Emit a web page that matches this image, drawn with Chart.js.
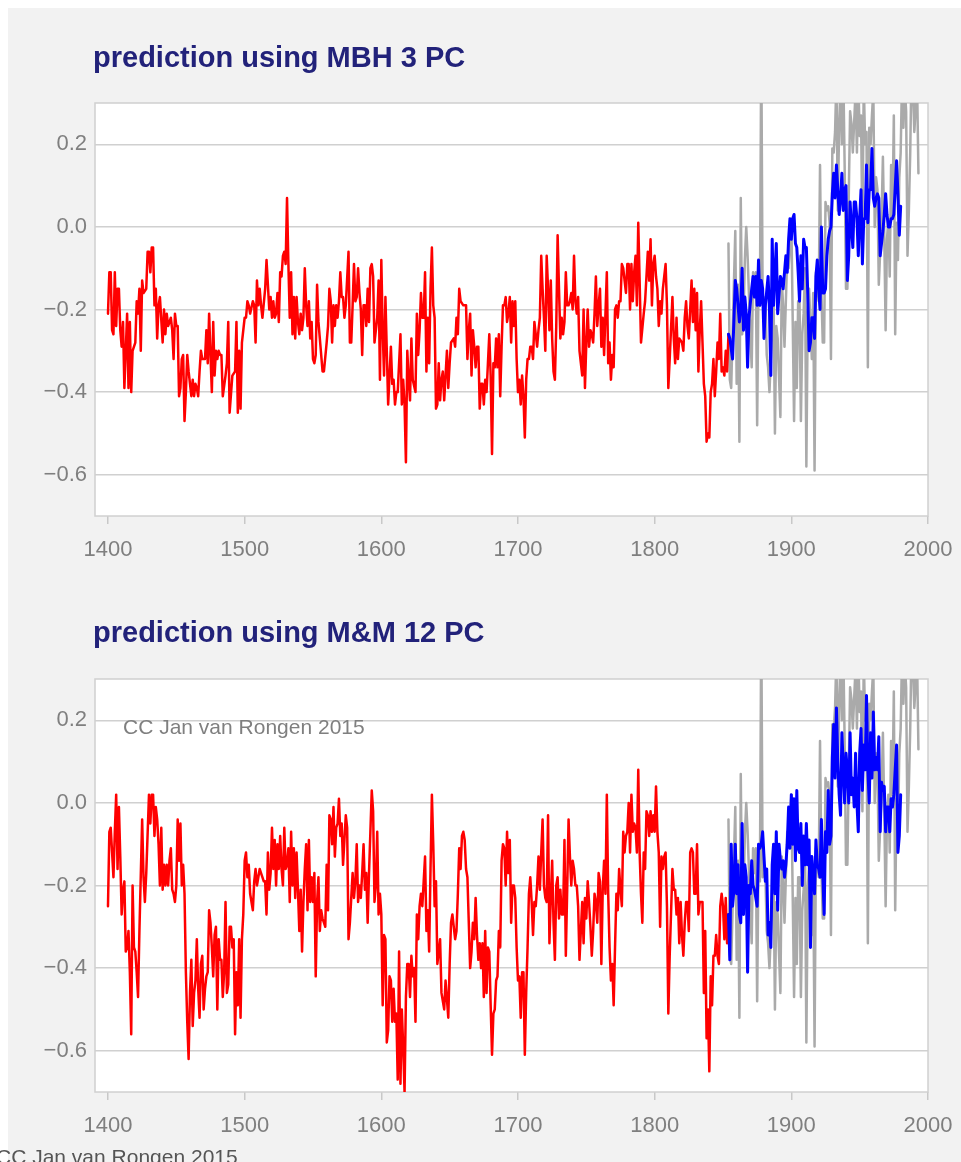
<!DOCTYPE html>
<html><head><meta charset="utf-8">
<script src="https://cdn.jsdelivr.net/npm/chart.js@4/dist/chart.umd.min.js"></script>
<style>
html,body{margin:0;padding:0;background:#fff;width:961px;height:1162px;overflow:hidden;font-family:"Liberation Sans",Arial,sans-serif;}
#panel{position:absolute;left:8px;top:8px;width:953px;height:1154px;background:#f2f2f2;}
.box{position:absolute;left:0;width:961px;height:580px;}
.title{position:absolute;left:93px;font-weight:bold;font-size:29px;line-height:29px;color:#22227a;white-space:nowrap;}
.note{position:absolute;font-size:21px;line-height:21px;color:#7f7f7f;white-space:nowrap;}
</style></head>
<body>
<div id="panel"></div>
<div class="box" style="top:0"><canvas id="c1" width="961" height="580"></canvas></div>
<div class="box" style="top:576px"><canvas id="c2" width="961" height="580"></canvas></div>
<div class="title" style="top:43px">prediction using MBH 3 PC</div>
<div class="title" style="top:618px">prediction using M&amp;M 12 PC</div>
<div class="note" style="left:123px;top:716px">CC Jan van Rongen 2015</div>
<div class="note" style="left:-4px;top:1146px;color:#555">CC Jan van Rongen 2015</div>
<script>
// ---------- data ----------
const xTicks = [1400, 1500, 1600, 1700, 1800, 1900, 2000];
const yTicks = [-0.6, -0.4, -0.2, 0.0, 0.2];

// MBH 3 PC reconstruction (red)
const mbhRedYears = [
1400,1401,1402,1403,1404,1405,1406,1407,1408,1409,
1410,1411,1412,1414,1415,1416,1417,1418,1420,1421,
1422,1423,1424,1425,1426,1428,1429,1430,1431,1432,
1433,1434,1435,1436,1437,1438,1440,1441,1442,1443,
1444,1446,1447,1448,1449,1450,1451,1452,1453,1454,
1455,1456,1457,1458,1459,1461,1462,1463,1464,1465,
1466,1467,1468,1469,1471,1472,1473,1474,1475,1476,
1477,1478,1479,1480,1481,1482,1483,1484,1486,1487,
1488,1489,1491,1493,1494,1495,1496,1497,1498,1500,
1501,1502,1503,1504,1506,1507,1508,1509,1510,1511,
1512,1513,1515,1516,1518,1519,1520,1521,1522,1523,
1524,1525,1526,1527,1528,1529,1530,1531,1532,1533,
1534,1535,1536,1537,1538,1539,1540,1541,1542,1543,
1544,1545,1546,1547,1548,1549,1550,1551,1552,1553,
1554,1555,1557,1558,1560,1561,1562,1563,1564,1565,
1566,1567,1568,1569,1570,1571,1572,1573,1574,1576,
1577,1578,1579,1580,1581,1582,1583,1584,1585,1586,
1587,1588,1589,1590,1591,1592,1593,1594,1595,1597,
1598,1599,1600,1601,1602,1603,1604,1605,1607,1608,
1609,1610,1611,1612,1614,1615,1616,1617,1618,1619,
1620,1621,1622,1623,1625,1626,1627,1628,1629,1630,
1631,1632,1633,1634,1635,1636,1637,1638,1639,1640,
1641,1642,1643,1644,1645,1646,1648,1649,1650,1651,
1653,1654,1655,1656,1657,1658,1660,1662,1663,1664,
1665,1666,1667,1668,1669,1670,1671,1672,1673,1674,
1675,1676,1677,1678,1679,1680,1681,1682,1683,1684,
1685,1686,1687,1688,1689,1690,1691,1692,1693,1694,
1695,1696,1697,1698,1699,1700,1701,1702,1703,1704,
1705,1706,1707,1708,1709,1710,1711,1712,1713,1714,
1715,1716,1717,1718,1719,1720,1721,1722,1723,1724,
1725,1726,1727,1728,1729,1730,1731,1732,1733,1734,
1735,1736,1737,1738,1739,1740,1741,1742,1743,1744,
1745,1746,1747,1748,1749,1750,1751,1752,1753,1754,
1755,1756,1757,1758,1759,1760,1761,1762,1763,1764,
1765,1766,1767,1768,1769,1770,1771,1772,1773,1774,
1775,1776,1777,1779,1780,1781,1782,1783,1784,1785,
1786,1787,1788,1789,1790,1792,1793,1795,1796,1797,
1798,1799,1800,1801,1802,1803,1804,1805,1806,1807,
1808,1809,1810,1811,1813,1814,1815,1816,1817,1818,
1820,1821,1822,1823,1824,1825,1826,1827,1828,1829,
1830,1831,1832,1833,1834,1835,1836,1837,1838,1839,
1840,1841,1842,1843,1844,1845,1846,1847,1848,1849,
1850,1851,1852,1853,1854];
const mbhRedValues = [
-0.21,-0.11,-0.11,-0.25,-0.26,-0.11,-0.24,-0.15,-0.15,-0.25,
-0.29,-0.23,-0.39,-0.21,-0.39,-0.23,-0.40,-0.30,-0.28,-0.18,
-0.21,-0.15,-0.30,-0.13,-0.16,-0.15,-0.06,-0.06,-0.11,-0.05,
-0.05,-0.19,-0.15,-0.27,-0.19,-0.17,-0.28,-0.20,-0.26,-0.21,
-0.24,-0.22,-0.25,-0.32,-0.21,-0.24,-0.24,-0.41,-0.39,-0.32,
-0.31,-0.47,-0.40,-0.31,-0.35,-0.41,-0.37,-0.41,-0.38,-0.39,
-0.41,-0.35,-0.30,-0.32,-0.32,-0.25,-0.33,-0.21,-0.31,-0.40,
-0.23,-0.36,-0.30,-0.32,-0.30,-0.31,-0.31,-0.41,-0.36,-0.33,
-0.23,-0.45,-0.36,-0.35,-0.23,-0.45,-0.30,-0.44,-0.28,-0.22,
-0.22,-0.18,-0.19,-0.21,-0.18,-0.19,-0.28,-0.13,-0.19,-0.15,
-0.19,-0.22,-0.15,-0.08,-0.20,-0.17,-0.22,-0.18,-0.22,-0.21,
-0.16,-0.23,-0.11,-0.12,-0.07,-0.06,-0.09,0.07,-0.09,-0.22,
-0.11,-0.26,-0.17,-0.27,-0.17,-0.23,-0.26,-0.21,-0.25,-0.22,
-0.10,-0.19,-0.24,-0.18,-0.27,-0.23,-0.32,-0.33,-0.31,-0.14,
-0.23,-0.27,-0.35,-0.35,-0.28,-0.24,-0.15,-0.18,-0.28,-0.19,
-0.24,-0.19,-0.22,-0.18,-0.11,-0.17,-0.17,-0.22,-0.19,-0.06,
-0.28,-0.28,-0.19,-0.09,-0.18,-0.17,-0.10,-0.16,-0.20,-0.31,
-0.19,-0.19,-0.24,-0.15,-0.23,-0.10,-0.09,-0.12,-0.28,-0.22,
-0.13,-0.37,-0.08,-0.25,-0.36,-0.17,-0.30,-0.43,-0.29,-0.38,
-0.37,-0.43,-0.40,-0.40,-0.26,-0.43,-0.37,-0.43,-0.57,-0.30,
-0.37,-0.42,-0.27,-0.37,-0.40,-0.21,-0.31,-0.25,-0.16,-0.22,
-0.22,-0.11,-0.35,-0.22,-0.33,-0.15,-0.05,-0.19,-0.22,-0.44,
-0.43,-0.33,-0.42,-0.37,-0.35,-0.42,-0.30,-0.39,-0.33,-0.28,
-0.27,-0.29,-0.22,-0.26,-0.15,-0.18,-0.19,-0.19,-0.32,-0.25,
-0.21,-0.36,-0.25,-0.29,-0.34,-0.29,-0.29,-0.44,-0.38,-0.38,
-0.43,-0.37,-0.40,-0.33,-0.26,-0.36,-0.55,-0.33,-0.34,-0.27,
-0.34,-0.26,-0.41,-0.29,-0.19,-0.19,-0.17,-0.23,-0.21,-0.17,
-0.28,-0.18,-0.24,-0.18,-0.32,-0.40,-0.37,-0.43,-0.36,-0.41,
-0.51,-0.37,-0.32,-0.32,-0.29,-0.29,-0.32,-0.23,-0.26,-0.29,
-0.25,-0.22,-0.07,-0.15,-0.22,-0.30,-0.07,-0.15,-0.25,-0.13,
-0.27,-0.35,-0.37,-0.24,-0.02,-0.15,-0.27,-0.22,-0.26,-0.23,
-0.11,-0.19,-0.19,-0.18,-0.16,-0.20,-0.07,-0.18,-0.21,-0.17,
-0.30,-0.33,-0.36,-0.20,-0.39,-0.28,-0.20,-0.29,-0.25,-0.26,
-0.28,-0.21,-0.12,-0.24,-0.19,-0.15,-0.29,-0.22,-0.31,-0.21,
-0.11,-0.33,-0.28,-0.37,-0.31,-0.34,-0.20,-0.19,-0.22,-0.18,
-0.18,-0.09,-0.10,-0.16,-0.09,-0.09,-0.20,-0.09,-0.18,-0.11,
-0.07,-0.19,0.01,-0.13,-0.28,-0.21,-0.18,-0.06,-0.13,-0.03,
-0.19,-0.09,-0.07,-0.12,-0.15,-0.24,-0.18,-0.21,-0.15,-0.12,
-0.09,-0.19,-0.39,-0.32,-0.17,-0.27,-0.33,-0.22,-0.32,-0.27,
-0.28,-0.30,-0.22,-0.18,-0.24,-0.27,-0.20,-0.13,-0.23,-0.15,
-0.25,-0.16,-0.35,-0.25,-0.18,-0.28,-0.38,-0.41,-0.52,-0.50,
-0.51,-0.40,-0.38,-0.32,-0.41,-0.35,-0.28,-0.32,-0.21,-0.35,
-0.34,-0.36,-0.30,-0.35,-0.26];

// MBH 3 PC calibration fit (blue)
const mbhBlueYears = [
1854,1855,1857,1859,1860,1862,1863,1864,1865,1866,
1867,1868,1869,1871,1872,1873,1874,1875,1876,1877,
1878,1879,1880,1881,1883,1884,1885,1886,1887,1889,
1890,1892,1893,1894,1896,1897,1898,1899,1900,1901,
1902,1903,1904,1905,1906,1907,1908,1909,1910,1911,
1912,1913,1914,1915,1916,1917,1918,1919,1920,1921,
1922,1923,1924,1925,1926,1927,1928,1929,1930,1931,
1932,1933,1934,1935,1936,1937,1938,1939,1940,1941,
1942,1943,1944,1945,1946,1947,1948,1949,1950,1951,
1952,1953,1954,1955,1956,1957,1958,1959,1960,1961,
1962,1963,1964,1965,1966,1967,1968,1969,1970,1971,
1972,1973,1974,1975,1977,1978,1979,1980];
const mbhBlueValues = [
-0.26,-0.27,-0.32,-0.13,-0.15,-0.23,-0.20,-0.10,-0.25,-0.17,
-0.21,-0.34,-0.22,-0.15,-0.12,-0.17,-0.12,-0.19,-0.08,-0.19,
-0.13,-0.15,-0.27,-0.19,-0.12,-0.20,-0.36,-0.03,-0.19,-0.04,
-0.21,-0.12,-0.13,-0.15,-0.07,-0.11,-0.03,0.02,-0.03,0.02,
0.03,-0.04,-0.05,-0.11,-0.18,-0.07,-0.15,-0.03,-0.05,-0.05,
-0.16,-0.30,-0.28,-0.22,-0.22,-0.27,-0.12,-0.08,-0.15,-0.20,
0.00,-0.16,-0.16,-0.15,-0.07,-0.03,-0.01,0.00,0.08,0.13,
0.07,0.15,0.09,0.03,0.07,0.13,0.04,0.09,0.10,-0.13,
-0.07,0.06,0.00,-0.05,0.06,0.06,0.02,-0.07,0.02,0.09,
-0.09,0.02,0.02,0.15,0.01,0.09,0.09,0.19,0.07,0.05,
0.07,0.08,0.07,-0.07,-0.04,-0.01,0.03,0.08,0.03,0.00,
0.00,0.02,0.02,0.03,0.16,0.08,-0.02,0.05];

// M&M 12 PC reconstruction (red)
const mmRedYears = [
1400,1401,1402,1403,1404,1405,1406,1407,1408,1409,
1410,1411,1412,1413,1414,1415,1416,1417,1418,1419,
1420,1421,1422,1423,1425,1426,1427,1428,1430,1431,
1432,1433,1434,1435,1436,1437,1438,1439,1440,1441,
1442,1443,1444,1445,1446,1447,1448,1449,1450,1451,
1452,1453,1454,1455,1456,1457,1458,1459,1460,1461,
1462,1463,1464,1465,1466,1467,1468,1469,1470,1471,
1472,1473,1474,1475,1476,1477,1478,1479,1480,1481,
1482,1483,1484,1485,1486,1487,1488,1489,1490,1491,
1492,1493,1494,1495,1496,1497,1498,1499,1500,1501,
1502,1503,1504,1506,1507,1508,1509,1510,1511,1512,
1514,1515,1516,1517,1518,1519,1520,1521,1522,1523,
1524,1525,1526,1527,1528,1529,1530,1531,1532,1533,
1534,1535,1536,1537,1538,1539,1540,1541,1542,1543,
1544,1545,1546,1547,1548,1549,1550,1551,1552,1553,
1554,1555,1556,1557,1558,1559,1560,1561,1562,1563,
1564,1565,1566,1567,1568,1569,1570,1571,1572,1573,
1574,1575,1576,1577,1578,1579,1580,1581,1582,1583,
1584,1585,1586,1587,1588,1589,1590,1591,1592,1593,
1594,1595,1596,1597,1598,1599,1600,1601,1602,1603,
1604,1605,1606,1607,1608,1609,1610,1611,1612,1613,
1614,1615,1616,1617,1618,1619,1620,1621,1622,1623,
1624,1625,1626,1627,1628,1629,1630,1631,1632,1633,
1634,1635,1636,1637,1638,1639,1640,1641,1642,1643,
1644,1646,1647,1649,1650,1651,1652,1654,1655,1656,
1657,1658,1659,1660,1661,1662,1663,1664,1665,1666,
1667,1668,1669,1670,1671,1672,1673,1674,1675,1676,
1677,1678,1679,1680,1681,1682,1683,1684,1685,1686,
1687,1688,1689,1690,1691,1692,1693,1694,1695,1696,
1697,1698,1699,1700,1701,1702,1703,1704,1705,1706,
1707,1708,1709,1710,1711,1712,1713,1714,1715,1716,
1717,1718,1719,1720,1721,1722,1723,1724,1725,1726,
1727,1728,1729,1730,1731,1732,1733,1734,1735,1736,
1737,1738,1739,1740,1741,1742,1743,1744,1745,1746,
1747,1748,1749,1750,1751,1752,1753,1754,1755,1756,
1757,1758,1759,1760,1761,1762,1763,1764,1765,1766,
1767,1768,1769,1770,1771,1772,1773,1774,1775,1776,
1777,1778,1779,1780,1781,1782,1783,1784,1785,1786,
1787,1788,1789,1790,1791,1792,1793,1794,1795,1796,
1797,1798,1799,1800,1801,1802,1803,1804,1805,1806,
1807,1808,1809,1810,1811,1813,1814,1815,1816,1817,
1818,1819,1820,1821,1822,1823,1824,1825,1826,1827,
1828,1829,1830,1831,1832,1833,1834,1835,1836,1837,
1838,1839,1840,1841,1842,1843,1844,1845,1846,1847,
1848,1849,1850,1851,1852,1853,1854];
const mmRedValues = [
-0.25,-0.07,-0.06,-0.12,-0.18,-0.07,0.02,-0.16,-0.01,-0.13,
-0.27,-0.21,-0.19,-0.36,-0.35,-0.31,-0.41,-0.56,-0.20,-0.35,
-0.36,-0.41,-0.47,-0.31,-0.04,-0.18,-0.24,-0.17,0.02,-0.05,
0.02,0.02,-0.08,-0.01,-0.04,-0.10,-0.20,-0.06,-0.21,-0.15,
-0.20,-0.15,-0.20,-0.14,-0.11,-0.21,-0.22,-0.24,-0.20,-0.04,
-0.14,-0.05,-0.20,-0.15,-0.22,-0.41,-0.53,-0.62,-0.46,-0.38,
-0.54,-0.46,-0.43,-0.33,-0.45,-0.52,-0.39,-0.37,-0.50,-0.45,
-0.42,-0.41,-0.26,-0.29,-0.35,-0.42,-0.32,-0.30,-0.50,-0.33,
-0.38,-0.38,-0.47,-0.41,-0.24,-0.46,-0.44,-0.30,-0.30,-0.35,
-0.33,-0.56,-0.41,-0.49,-0.33,-0.52,-0.33,-0.27,-0.14,-0.12,
-0.18,-0.15,-0.22,-0.26,-0.19,-0.16,-0.20,-0.18,-0.16,-0.17,
-0.19,-0.19,-0.27,-0.12,-0.21,-0.17,-0.06,-0.16,-0.09,-0.20,
-0.10,-0.16,-0.08,-0.16,-0.20,-0.06,-0.16,-0.15,-0.11,-0.24,
-0.07,-0.20,-0.11,-0.23,-0.12,-0.21,-0.31,-0.21,-0.36,-0.24,
-0.16,-0.10,-0.26,-0.09,-0.24,-0.18,-0.24,-0.17,-0.42,-0.24,
-0.18,-0.31,-0.26,-0.28,-0.29,-0.30,-0.15,-0.26,-0.03,-0.04,
-0.10,-0.01,-0.13,-0.06,-0.05,0.01,-0.08,-0.05,-0.15,-0.09,
-0.03,-0.06,-0.33,-0.29,-0.23,-0.17,-0.23,-0.19,-0.10,-0.24,
-0.20,-0.23,-0.17,-0.10,-0.21,-0.17,-0.29,-0.17,-0.07,0.03,
-0.02,-0.24,-0.20,-0.07,-0.27,-0.22,-0.27,-0.49,-0.32,-0.33,
-0.58,-0.55,-0.42,-0.43,-0.53,-0.45,-0.53,-0.51,-0.67,-0.36,
-0.68,-0.50,-0.59,-0.70,-0.47,-0.39,-0.39,-0.47,-0.37,-0.42,
-0.40,-0.53,-0.27,-0.33,-0.25,-0.22,-0.25,-0.19,-0.13,-0.31,
-0.26,-0.36,-0.16,0.02,-0.10,-0.25,-0.19,-0.39,-0.36,-0.33,
-0.46,-0.50,-0.43,-0.52,-0.39,-0.29,-0.27,-0.33,-0.31,-0.22,
-0.11,-0.16,-0.08,-0.07,-0.09,-0.16,-0.18,-0.29,-0.40,-0.36,
-0.29,-0.33,-0.23,-0.32,-0.38,-0.34,-0.40,-0.34,-0.47,-0.31,
-0.46,-0.35,-0.36,-0.49,-0.61,-0.51,-0.50,-0.43,-0.42,-0.31,
-0.35,-0.14,-0.10,-0.11,-0.20,-0.07,-0.17,-0.09,-0.29,-0.20,
-0.20,-0.23,-0.35,-0.43,-0.42,-0.52,-0.41,-0.41,-0.61,-0.46,
-0.35,-0.22,-0.18,-0.24,-0.32,-0.24,-0.25,-0.20,-0.13,-0.21,
-0.12,-0.04,-0.20,-0.23,-0.24,-0.03,-0.34,-0.23,-0.14,-0.29,
-0.38,-0.20,-0.18,-0.28,-0.21,-0.27,-0.27,-0.09,-0.37,-0.21,
-0.04,-0.13,-0.20,-0.14,-0.16,-0.20,-0.20,-0.25,-0.38,-0.31,
-0.24,-0.34,-0.23,-0.28,-0.19,-0.24,-0.30,-0.37,-0.31,-0.22,
-0.24,-0.29,-0.17,-0.19,-0.39,-0.21,-0.14,-0.22,0.02,-0.22,
-0.35,-0.43,-0.39,-0.49,-0.35,-0.22,-0.26,-0.16,-0.21,-0.25,
-0.07,-0.12,-0.08,-0.07,0.00,-0.12,0.02,-0.07,-0.05,-0.06,
-0.12,0.08,-0.12,-0.22,-0.29,-0.12,-0.16,-0.02,-0.03,-0.08,
-0.02,-0.07,-0.03,-0.07,0.04,-0.07,-0.12,-0.30,-0.13,-0.16,
-0.13,-0.12,-0.25,-0.51,-0.37,-0.16,-0.21,-0.21,-0.27,-0.23,
-0.34,-0.24,-0.32,-0.37,-0.29,-0.24,-0.24,-0.31,-0.12,-0.11,
-0.12,-0.22,-0.22,-0.10,-0.27,-0.24,-0.24,-0.24,-0.46,-0.31,
-0.57,-0.50,-0.65,-0.42,-0.49,-0.37,-0.37,-0.32,-0.37,-0.39,
-0.25,-0.22,-0.25,-0.33,-0.23,-0.34,-0.27];

// M&M 12 PC calibration fit (blue)
const mmBlueYears = [
1854,1855,1856,1857,1858,1859,1860,1861,1862,1863,
1864,1865,1866,1867,1868,1869,1870,1871,1872,1873,
1875,1876,1877,1878,1879,1880,1881,1882,1883,1884,
1885,1886,1887,1888,1889,1890,1891,1892,1893,1894,
1895,1896,1897,1898,1899,1900,1901,1902,1903,1904,
1905,1906,1907,1908,1909,1910,1911,1912,1913,1914,
1915,1916,1917,1918,1919,1920,1921,1922,1923,1924,
1925,1926,1927,1928,1929,1930,1931,1932,1933,1934,
1935,1936,1937,1938,1939,1940,1941,1942,1943,1944,
1945,1946,1947,1948,1949,1950,1951,1952,1953,1954,
1955,1956,1957,1958,1959,1960,1961,1962,1963,1964,
1965,1966,1967,1968,1969,1970,1971,1972,1973,1974,
1975,1976,1977,1978,1979,1980];
const mmBlueValues = [
-0.27,-0.38,-0.10,-0.25,-0.21,-0.10,-0.22,-0.15,-0.27,-0.29,
-0.05,-0.27,-0.15,-0.18,-0.41,-0.20,-0.22,-0.14,-0.20,-0.21,
-0.25,-0.10,-0.11,-0.10,-0.07,-0.13,-0.19,-0.16,-0.32,-0.29,
-0.35,-0.15,-0.10,-0.22,-0.07,-0.26,-0.10,-0.14,-0.16,-0.14,
-0.18,-0.15,-0.10,-0.01,-0.11,0.02,-0.10,0.01,-0.14,0.03,
-0.11,-0.12,-0.05,-0.20,-0.08,-0.15,-0.05,-0.15,-0.09,-0.35,
-0.13,-0.18,-0.22,-0.09,-0.15,-0.16,-0.18,-0.04,-0.17,-0.27,
-0.07,-0.12,0.03,-0.10,-0.08,0.11,0.19,0.06,0.23,0.10,
0.02,-0.03,0.17,0.09,0.00,0.12,0.08,0.00,0.17,0.02,
0.06,-0.01,0.12,0.00,-0.07,0.12,0.18,0.03,0.14,0.08,
0.26,0.08,0.00,0.17,0.06,0.22,0.08,0.11,0.08,0.16,
-0.07,0.05,0.03,0.04,-0.07,-0.01,-0.01,-0.07,0.01,-0.01,
0.02,0.08,0.14,-0.12,-0.08,0.02];

// instrumental record (grey), same in both panels
const instYears = [
1854,1855,1856,1857,1859,1860,1861,1862,1863,1864,
1865,1866,1867,1868,1870,1871,1872,1873,1874,1875,
1876,1877,1878,1879,1881,1882,1883,1884,1886,1887,
1888,1889,1890,1892,1893,1894,1895,1897,1898,1900,
1902,1903,1904,1905,1906,1907,1908,1909,1910,1911,
1912,1913,1915,1916,1917,1918,1920,1921,1922,1923,
1924,1925,1926,1927,1928,1929,1930,1931,1932,1933,
1934,1935,1936,1937,1938,1939,1940,1941,1942,1943,
1944,1945,1947,1948,1949,1950,1951,1952,1953,1954,
1955,1956,1957,1958,1959,1960,1961,1962,1963,1964,
1966,1967,1968,1969,1970,1971,1972,1973,1974,1975,
1976,1977,1978,1979,1980,1981,1982,1983,1984,1985,
1986,1987,1988,1989,1990,1992,1993];
const instValues = [
-0.04,-0.37,-0.39,-0.26,-0.01,-0.38,-0.14,-0.52,0.07,-0.26,
-0.22,-0.08,0.00,-0.07,-0.26,-0.34,-0.11,-0.17,-0.11,-0.48,
-0.13,-0.19,0.45,-0.18,-0.17,-0.31,-0.34,-0.40,-0.23,-0.17,
-0.50,-0.24,-0.27,-0.46,-0.13,-0.19,-0.29,-0.07,-0.10,0.02,
-0.47,-0.23,-0.39,-0.18,-0.18,-0.47,-0.26,-0.21,-0.10,-0.58,
-0.21,-0.15,-0.32,-0.16,-0.59,-0.11,-0.18,0.15,-0.16,-0.28,
-0.28,0.06,0.04,0.05,0.01,-0.32,0.19,0.18,0.23,0.36,
0.04,0.25,0.34,0.20,0.38,0.15,-0.15,-0.15,0.07,0.28,
0.25,0.18,0.33,0.18,0.36,0.22,0.27,-0.02,0.35,0.20,
0.23,-0.34,0.24,0.20,0.27,0.33,0.00,0.12,0.09,-0.14,
0.02,0.17,-0.02,-0.25,-0.03,0.02,-0.12,0.15,0.02,0.27,
-0.26,0.01,-0.08,0.12,0.18,0.36,0.24,0.34,0.28,-0.07,
0.04,0.18,0.40,0.33,0.23,0.35,0.13];

// ---------- drawing ----------
const FONT = '"Liberation Sans", Arial, sans-serif';
const pts = (xs, ys) => xs.map((x, i) => ({ x: x, y: ys[i] }));

const framePlugin = {
  id: 'frame',
  beforeDraw(chart) {
    const { ctx, chartArea: a } = chart;
    ctx.save();
    ctx.fillStyle = '#ffffff';
    ctx.fillRect(a.left, a.top, a.right - a.left, a.bottom - a.top);
    ctx.restore();
  },
  beforeDatasetsDraw(chart) {
    const { ctx, chartArea: a } = chart;
    ctx.save();
    ctx.strokeStyle = '#d0d0d0';
    ctx.lineWidth = 1.5;
    ctx.strokeRect(a.left, a.top, a.right - a.left, a.bottom - a.top);
    ctx.restore();
  }
};

function lineDs(data, color, width, order) {
  return {
    data: data, borderColor: color, borderWidth: width, pointRadius: 0,
    tension: 0, order: order, borderJoinStyle: 'round', borderCapStyle: 'round',
    fill: false
  };
}

function makeChart(id, redY, redV, blueY, blueV) {
  return new Chart(document.getElementById(id), {
    type: 'line',
    data: {
      datasets: [
        lineDs(pts(blueY, blueV), '#0000ff', 3, 1),
        lineDs(pts(redY, redV), '#ff0000', 2.5, 2),
        lineDs(pts(instYears, instValues), '#aaaaaa', 2.5, 3)
      ]
    },
    plugins: [framePlugin],
    options: {
      responsive: false,
      animation: false,
      devicePixelRatio: 1,
      layout: { padding: { left: 0, top: 103, right: 33, bottom: 0 } },
      plugins: { legend: { display: false }, tooltip: { enabled: false }, title: { display: false } },
      scales: {
        x: {
          type: 'linear', min: 1390.5, max: 2000,
          afterBuildTicks: s => { s.ticks = xTicks.map(v => ({ value: v })); },
          afterFit: s => { s.height = 64; s.paddingLeft = 0; s.paddingRight = 0; },
          border: { display: false },
          grid: { drawOnChartArea: false, drawTicks: true, tickLength: 8, color: '#c8c8c8', lineWidth: 1.5 },
          ticks: { color: '#7f7f7f', font: { family: FONT, size: 22 }, padding: 13, maxRotation: 0, autoSkip: false,
                   callback: v => String(v) }
        },
        y: {
          type: 'linear', min: -0.7, max: 0.3,
          afterBuildTicks: s => { s.ticks = yTicks.map(v => ({ value: v })); },
          afterFit: s => { s.width = 95; s.paddingTop = 0; s.paddingBottom = 0; },
          border: { display: false },
          grid: { drawTicks: false, color: '#d0d0d0', lineWidth: 1.5 },
          ticks: { color: '#7f7f7f', font: { family: FONT, size: 22 }, padding: 8,
                   callback: v => (v < -1e-9 ? '\u2212' : '') + Math.abs(v).toFixed(1) }
        }
      }
    }
  });
}

makeChart('c1', mbhRedYears, mbhRedValues, mbhBlueYears, mbhBlueValues);
makeChart('c2', mmRedYears, mmRedValues, mmBlueYears, mmBlueValues);
</script>
</body></html>
